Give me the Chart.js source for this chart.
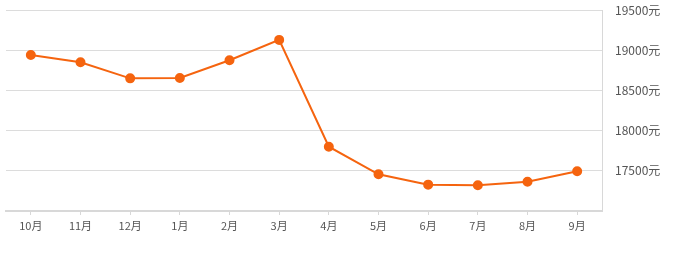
<!DOCTYPE html>
<html>
<head>
<meta charset="utf-8">
<script src="https://cdn.jsdelivr.net/npm/chart.js@4/dist/chart.umd.min.js"></script>
<style>
html,body{margin:0;padding:0;background:#fff;}
#wrap{width:675px;height:257px;position:relative;}
</style>
</head>
<body>
<div id="wrap"><canvas id="c"></canvas></div>
<script>
const categories = ["10月","11月","12月","1月","2月","3月","4月","5月","6月","7月","8月","9月"];
const prices = [18940, 18850, 18650, 18655, 18875, 19128, 17800, 17456, 17328, 17321, 17363, 17494];
const yTicks = [17000, 17500, 18000, 18500, 19000, 19500];
const unit = "元";

new Chart(document.getElementById('c'), {
  type: 'line',
  data: {
    labels: categories,
    datasets: [{
      data: prices,
      borderColor: '#f5640f',
      backgroundColor: '#f5640f',
      pointBackgroundColor: '#f5640f',
      pointBorderColor: '#f5640f',
      borderWidth: 2,
      pointRadius: 4,
      tension: 0,
      fill: false
    }]
  },
  options: {
    responsive: true,
    maintainAspectRatio: false,
    animation: false,
    layout: { padding: { left: 3, top: 10, right: 0, bottom: 0 } },
    plugins: { legend: { display: false }, tooltip: { enabled: false } },
    scales: {
      x: {
        type: 'category',
        offset: true,
        grid: { drawOnChartArea: false, drawTicks: true, tickLength: 4, color: '#d8d8d8', offset: false },
        border: { display: true, color: '#d8d8d8', width: 2 },
        ticks: { color: '#555', font: { family: 'Noto Sans CJK SC', size: 11 }, padding: 4, maxRotation: 0 },
        afterFit: s => { s.height = 46; }
      },
      y: {
        position: 'right',
        min: yTicks[0],
        max: yTicks[yTicks.length - 1],
        afterBuildTicks: s => { s.ticks = yTicks.map(v => ({ value: v })); },
        grid: { drawTicks: true, tickLength: 13, tickColor: 'rgba(0,0,0,0)', color: '#dcdcdc', lineWidth: 1 },
        border: { display: true, color: '#d8d8d8', width: 1 },
        ticks: {
          color: '#555',
          font: { family: 'Noto Sans CJK SC', size: 12 },
          padding: 0,
          callback: v => v === yTicks[0] ? '' : v + unit
        },
        afterFit: s => { s.width = 73; }
      }
    }
  }
});
</script>
</body>
</html>
